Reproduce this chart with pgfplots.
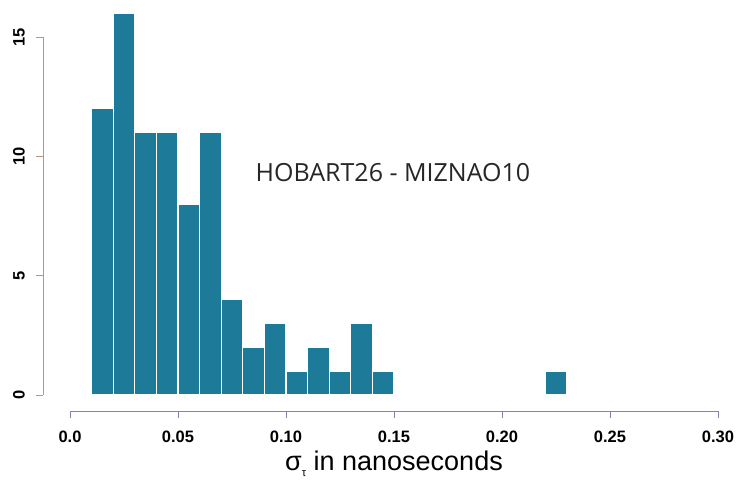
\documentclass[border=0pt]{standalone}
\usepackage{fontspec}
\setmainfont{Liberation Sans}
\newfontfamily\annfont{Open Sans}
\usepackage{pgfplots}
\pgfplotsset{compat=1.18}
\definecolor{barc}{RGB}{29,122,153}
\definecolor{xax}{RGB}{125,135,175}
\definecolor{yax}{RGB}{185,150,125}
\begin{document}
\begin{tikzpicture}
\begin{axis}[
  scale only axis, width=648pt, height=358pt,
  xmin=0, xmax=0.30, ymin=0, ymax=15,
  clip=false,
  axis x line*=bottom, axis y line*=left,
  x axis line style={yshift=-16pt, -, color=xax, line width=0.8pt},
  y axis line style={xshift=-27pt, -, color=yax, line width=0.8pt},
  xtick={0,0.05,...,0.30},
  ytick={0,5,10,15},
  xtick style={yshift=-16pt, color=xax, line width=0.8pt},
  ytick style={xshift=-27pt, color=yax, line width=0.8pt},
  tick align=outside, major tick length=7pt,
  xticklabels={0.0,0.05,0.10,0.15,0.20,0.25,0.30},
  yticklabels={0,5,10,15},
  xticklabel shift=9pt,
  yticklabel shift=5pt,
  xticklabel style={yshift=-16pt, font=\fontsize{16.5}{18}\selectfont\bfseries, inner sep=4pt},
  yticklabel style={xshift=-27pt, rotate=90, anchor=south, font=\fontsize{16.5}{18}\selectfont\bfseries, inner sep=6pt},
  /pgf/number format/assume math mode=true,
  xlabel={σ\raisebox{-0.45ex}{\fontsize{11}{12}\selectfont τ} in nanoseconds},
  xlabel style={font=\fontsize{27}{30}\selectfont, yshift=0pt},
]
\coordinate (ll) at (rel axis cs:0,0);
\coordinate (ur) at (rel axis cs:1,1);
\addplot[ybar interval, fill=barc, draw=white, line width=1.3pt] coordinates {
(0.01,12) (0.02,16) (0.03,11) (0.04,11) (0.05,8) (0.06,11) (0.07,4)
(0.08,2) (0.09,3) (0.10,1) (0.11,2) (0.12,1) (0.13,3) (0.14,1)
(0.15,0) (0.16,0) (0.17,0) (0.18,0) (0.19,0) (0.20,0) (0.21,0)
(0.22,1) (0.23,1)
};
\node[font=\annfont\fontsize{25}{28}\selectfont, text=black!85] at (axis cs:0.1495,9.34) {HOBART26 - MIZNAO10};
\end{axis}
\pgfresetboundingbox
\path[use as bounding box] ([xshift=-70pt,yshift=-85pt]ll) rectangle ([xshift=20pt,yshift=37pt]ur);
\end{tikzpicture}
\end{document}
